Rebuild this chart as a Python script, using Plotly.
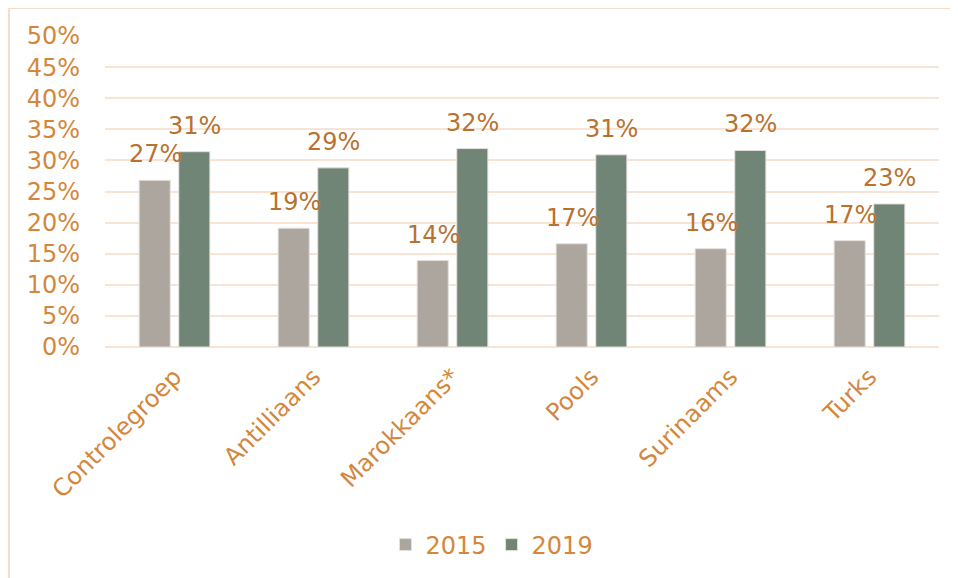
import plotly.graph_objects as go

categories = ["Controlegroep", "Antilliaans", "Marokkaans*", "Pools", "Surinaams", "Turks"]
values_2015 = [0.268, 0.191, 0.139, 0.166, 0.158, 0.171]
values_2019 = [0.314, 0.288, 0.319, 0.309, 0.316, 0.230]
series_names = ["2015", "2019"]
y_ticks = [i / 100 for i in range(0, 51, 5)]

COL_2015 = "#ADA69F"
COL_2019 = "#718576"
TICK_COL = "#D4873B"
LABEL_COL = "#B8722F"
GRID_COL = "#F7E4D4"
FONT = "DejaVu Sans, Verdana, sans-serif"

fig = go.Figure()
for name, vals, col in [(series_names[0], values_2015, COL_2015),
                        (series_names[1], values_2019, COL_2019)]:
    fig.add_trace(go.Bar(
        x=categories, y=vals, name=name,
        marker=dict(color=col, line=dict(color="#E4E0DC", width=1)),
        hoverinfo="x+y",
    ))

# data labels, placed above each bar via the axes' own coordinates
for vals, shift in [(values_2015, -19.5), (values_2019, 19.5)]:
    for c, v in zip(categories, vals):
        fig.add_annotation(
            x=c, y=v, xref="x", yref="y", text=f"{round(v*100)}%",
            showarrow=False, xshift=shift, yshift=10, yanchor="bottom",
            font=dict(family=FONT, size=24, color=LABEL_COL),
        )

# page body adds an 8px offset, so the figure is sized/margined to compensate
W, H = 950, 570
L, R, T, B = 97, 19, 28, 231
pw, ph = W - L - R, H - T - B

# outer chart border (left and top visible)
fig.add_shape(type="rect", xref="paper", yref="paper",
              x0=(1 - L) / pw, x1=(W + 20 - L) / pw,
              y0=(H - B - (H + 20)) / ph, y1=(H - B - 0) / ph,
              line=dict(color="#F4DDCA", width=2), fillcolor="rgba(0,0,0,0)", layer="below")

fig.update_layout(
    width=W, height=H,
    margin=dict(l=L, r=R, t=T, b=B, autoexpand=False),
    paper_bgcolor="white", plot_bgcolor="white",
    barmode="group", bargap=0.43, bargroupgap=0.215,
    font=dict(family=FONT, size=24, color=TICK_COL),
    showlegend=True,
    legend=dict(orientation="h", x=(484 - L) / pw, xanchor="center",
                y=(H - B - 537) / ph, yanchor="middle",
                font=dict(family=FONT, size=24, color=TICK_COL),
                itemwidth=30, tracegroupgap=0, itemclick=False),
    xaxis=dict(tickangle=-45, tickfont=dict(family=FONT, size=24, color=TICK_COL),
               showgrid=False, showline=False, zeroline=False,
               ticks="", ticklabelstandoff=10, automargin=False),
    yaxis=dict(range=[0, 0.5], tickvals=y_ticks, tickformat=".0%",
               tickfont=dict(family=FONT, size=24, color=TICK_COL),
               showgrid=True, gridcolor=GRID_COL, gridwidth=2,
               zeroline=True, zerolinecolor=GRID_COL, zerolinewidth=2,
               showline=False, ticks="", ticklabelstandoff=24, automargin=False),
)

fig.write_html("out.html")
